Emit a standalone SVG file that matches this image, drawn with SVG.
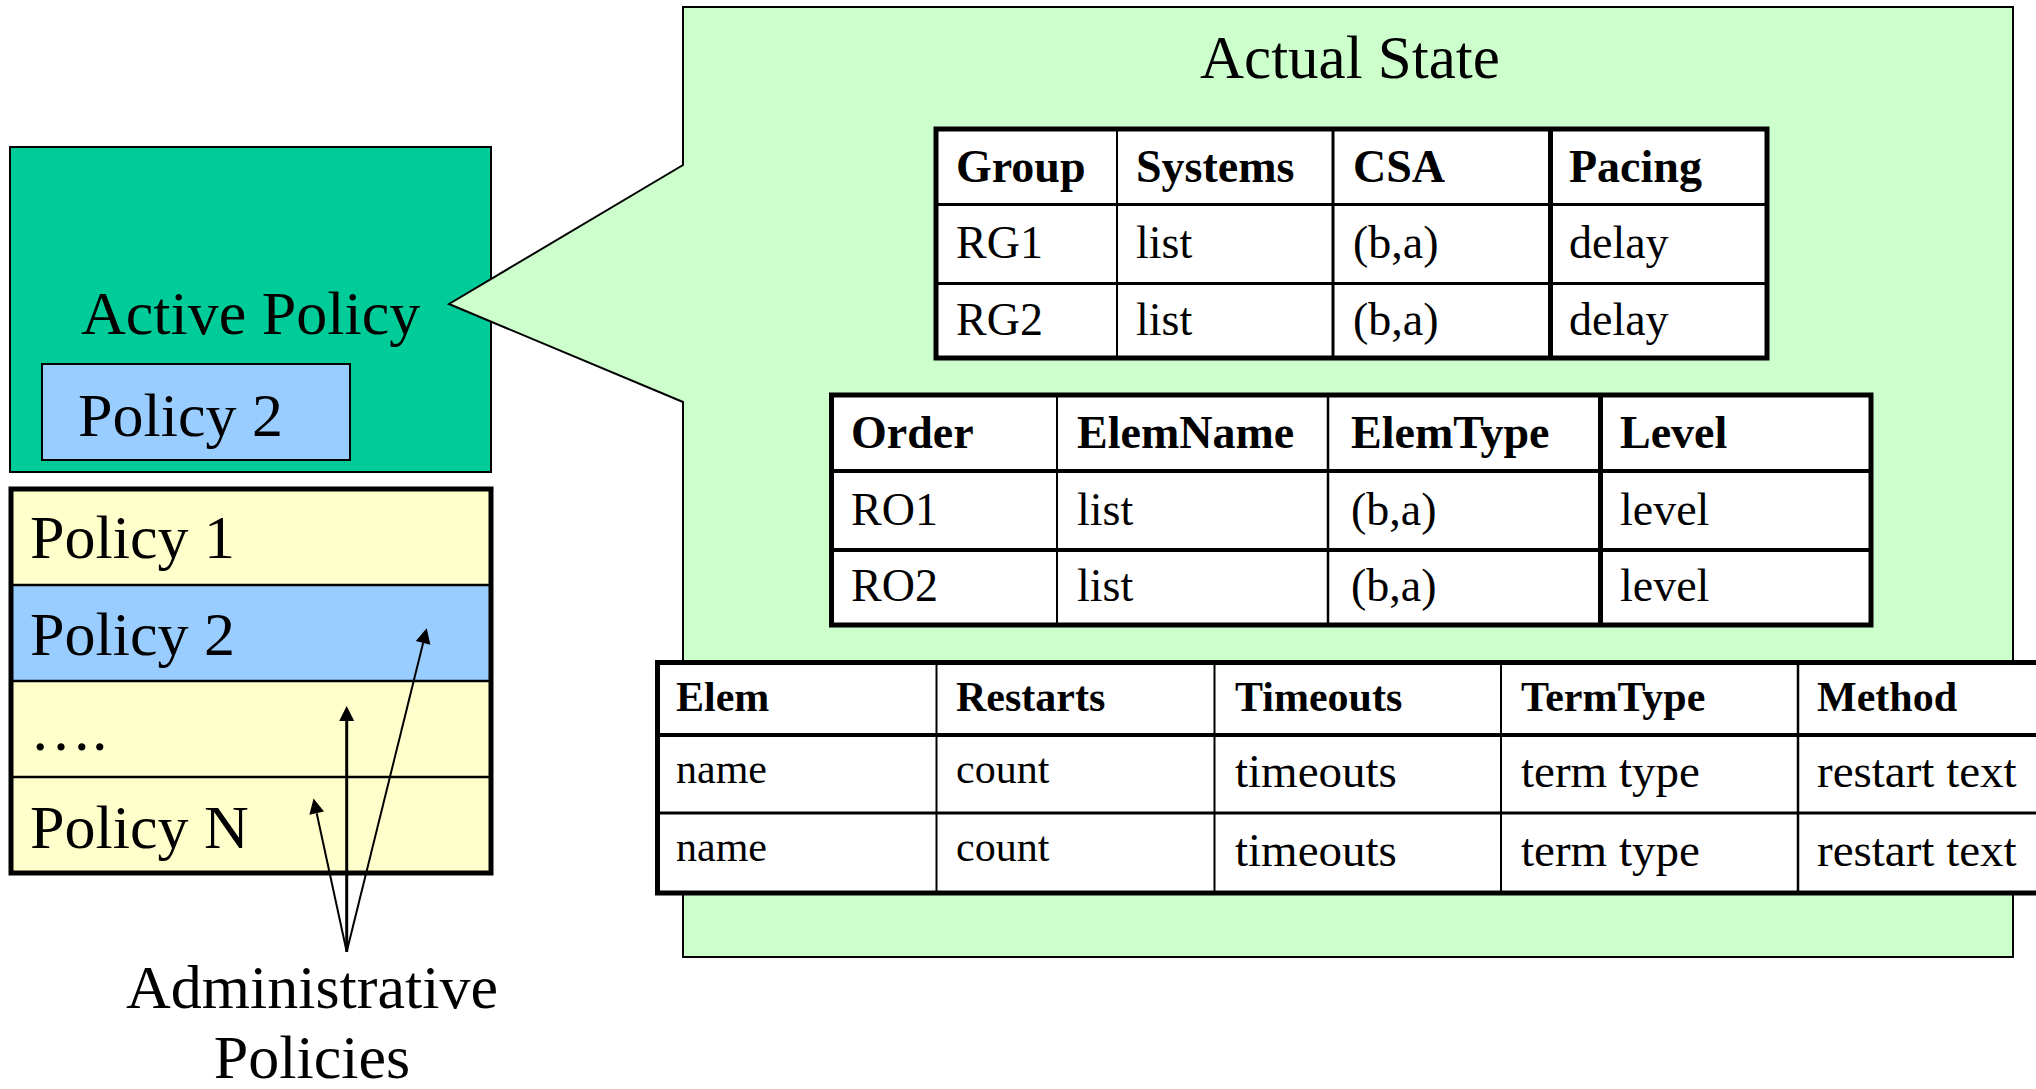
<svg xmlns="http://www.w3.org/2000/svg" width="2036" height="1089" viewBox="0 0 2036 1089">
<style>
text{font-family:"Liberation Serif","Times New Roman",serif;fill:#000}
.big{font-size:62px}
.t46{font-size:46px}
.t46b{font-size:46px;font-weight:bold}
.t42b{font-size:42px;font-weight:bold}
.t42{font-size:42px}
.t47{font-size:47px}
.ln{stroke:#000;fill:none}
.cell{fill:#fff;stroke:#000;stroke-width:5}
</style>
<defs>
<marker id="ah" viewBox="0 0 15 15" refX="0" refY="7.5" markerWidth="15" markerHeight="15" markerUnits="userSpaceOnUse" orient="auto" overflow="visible">
<path d="M0,0 L15,7.5 L0,15 Z" fill="#000"/>
</marker>
</defs>
<rect width="2036" height="1089" fill="#fff"/>

<g id="active-policy">
<rect x="10" y="147" width="481" height="325" fill="#00cc99" stroke="#000" stroke-width="2"/>
<text class="big" x="81" y="334">Active Policy</text>
<rect x="42" y="364" width="308" height="96" fill="#99ccff" stroke="#000" stroke-width="2"/>
<text class="big" x="78" y="436">Policy 2</text>
</g>

<g id="policy-stack">
<rect x="11" y="489" width="480" height="96" fill="#ffffcc"/>
<rect x="11" y="585" width="480" height="96" fill="#99ccff"/>
<rect x="11" y="681" width="480" height="96" fill="#ffffcc"/>
<rect x="11" y="777" width="480" height="96" fill="#ffffcc"/>
<line class="ln" x1="11" y1="585" x2="491" y2="585" stroke-width="2.5"/>
<line class="ln" x1="11" y1="681" x2="491" y2="681" stroke-width="2.5"/>
<line class="ln" x1="11" y1="777" x2="491" y2="777" stroke-width="2.5"/>
<rect x="11" y="489" width="480" height="384" fill="none" stroke="#000" stroke-width="5"/>
<text class="big" x="30" y="558">Policy 1</text>
<text class="big" x="30" y="655">Policy 2</text>
<text class="big" x="30" y="750">….</text>
<text class="big" x="30" y="848">Policy N</text>
</g>

<g id="admin-label">
<text class="big" x="312" y="1008" text-anchor="middle">Administrative</text>
<text class="big" x="312" y="1078" text-anchor="middle">Policies</text>
</g>

<g id="actual-state">
<path d="M683,7 H2013 V957 H683 V402 L449,304 L683,165 Z" fill="#ccffcc" stroke="#000" stroke-width="2"/>
<text x="1200" y="78" style="font-size:61px">Actual State</text>
</g>

<g id="table-groups">
<rect class="cell" x="936" y="129" width="831" height="229"/>
<line class="ln" x1="1117" y1="129" x2="1117" y2="358" stroke-width="2"/>
<line class="ln" x1="1333" y1="129" x2="1333" y2="358" stroke-width="3"/>
<line class="ln" x1="1550.5" y1="129" x2="1550.5" y2="358" stroke-width="5"/>
<line class="ln" x1="936" y1="204.5" x2="1767" y2="204.5" stroke-width="3"/>
<line class="ln" x1="936" y1="283.5" x2="1767" y2="283.5" stroke-width="3"/>
<text class="t46b" x="956" y="182">Group</text>
<text class="t46b" x="1136" y="182">Systems</text>
<text class="t46b" x="1353" y="182">CSA</text>
<text class="t46b" x="1569" y="182">Pacing</text>
<text class="t46" x="956" y="258">RG1</text>
<text class="t46" x="1136" y="258">list</text>
<text class="t46" x="1353" y="258">(b,a)</text>
<text class="t46" x="1569" y="258">delay</text>
<text class="t46" x="956" y="335">RG2</text>
<text class="t46" x="1136" y="335">list</text>
<text class="t46" x="1353" y="335">(b,a)</text>
<text class="t46" x="1569" y="335">delay</text>
</g>

<g id="table-order">
<rect class="cell" x="831.5" y="395" width="1039.5" height="230"/>
<line class="ln" x1="1057" y1="395" x2="1057" y2="625" stroke-width="2"/>
<line class="ln" x1="1328" y1="395" x2="1328" y2="625" stroke-width="2.5"/>
<line class="ln" x1="1600.5" y1="395" x2="1600.5" y2="625" stroke-width="5"/>
<line class="ln" x1="831.5" y1="471" x2="1871" y2="471" stroke-width="4"/>
<line class="ln" x1="831.5" y1="550" x2="1871" y2="550" stroke-width="4"/>
<text class="t46b" x="851" y="448">Order</text>
<text class="t46b" x="1077" y="448">ElemName</text>
<text class="t46b" x="1351" y="448">ElemType</text>
<text class="t46b" x="1620" y="448">Level</text>
<text class="t46" x="851" y="525">RO1</text>
<text class="t46" x="1077" y="525">list</text>
<text class="t46" x="1351" y="525">(b,a)</text>
<text class="t46" x="1620" y="525">level</text>
<text class="t46" x="851" y="601">RO2</text>
<text class="t46" x="1077" y="601">list</text>
<text class="t46" x="1351" y="601">(b,a)</text>
<text class="t46" x="1620" y="601">level</text>
</g>

<g id="table-elem">
<rect class="cell" x="657.5" y="662.5" width="1420" height="230.5"/>
<line class="ln" x1="936.5" y1="662.5" x2="936.5" y2="893" stroke-width="2"/>
<line class="ln" x1="1214.5" y1="662.5" x2="1214.5" y2="893" stroke-width="2"/>
<line class="ln" x1="1501" y1="662.5" x2="1501" y2="893" stroke-width="2"/>
<line class="ln" x1="1798" y1="662.5" x2="1798" y2="893" stroke-width="2.5"/>
<line class="ln" x1="657.5" y1="735" x2="2036" y2="735" stroke-width="4"/>
<line class="ln" x1="657.5" y1="813" x2="2036" y2="813" stroke-width="3"/>
<text class="t42b" x="676" y="711">Elem</text>
<text class="t42b" x="956" y="711">Restarts</text>
<text class="t42b" x="1235" y="711">Timeouts</text>
<text class="t42b" x="1521" y="711">TermType</text>
<text class="t42b" x="1817" y="711">Method</text>
<text class="t42" x="676" y="783">name</text>
<text class="t42" x="956" y="783">count</text>
<text class="t47" x="1235" y="787">timeouts</text>
<text class="t47" x="1521" y="787">term type</text>
<text class="t47" x="1817" y="787">restart text</text>
<text class="t42" x="676" y="861">name</text>
<text class="t42" x="956" y="861">count</text>
<text class="t47" x="1235" y="866">timeouts</text>
<text class="t47" x="1521" y="866">term type</text>
<text class="t47" x="1817" y="866">restart text</text>
</g>

<g id="connectors">
<line class="ln" x1="346.7" y1="951.8" x2="316.7" y2="813.2" stroke-width="2" marker-end="url(#ah)"/>
<line class="ln" x1="346.7" y1="951.8" x2="346.7" y2="721" stroke-width="3" marker-end="url(#ah)"/>
<line class="ln" x1="346.7" y1="951.8" x2="423.1" y2="642.9" stroke-width="2" marker-end="url(#ah)"/>
</g>
</svg>
